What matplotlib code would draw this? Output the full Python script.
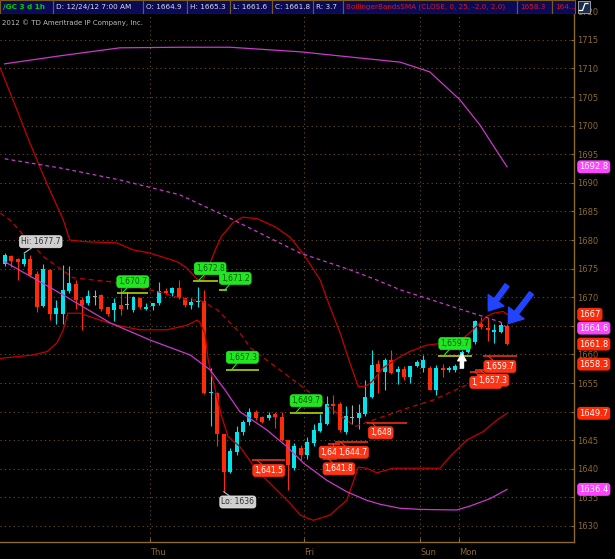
import numpy as np
import matplotlib.pyplot as plt
from matplotlib.patches import Rectangle

# /GC 3 d 1h -- one bar per hour, last bar Mon 12/24/12 7:00 AM
opens = [1675.8, 1677.2, 1676.6, 1675.8, 1676.7, 1674.0, 1668.5, 1674.8, 1667.0, 1667.0,
         1671.1, 1672.3, 1669.5, 1668.9, 1670.0, 1670.4, 1668.2, 1667.8, 1668.6, 1668.6,
         1667.8, 1669.9, 1668.0, 1668.5, 1668.9, 1671.1, 1670.7, 1671.6, 1669.8, 1668.7,
         1669.1, 1669.3, 1653.2, 1653.3, 1646.0, 1639.5, 1643.0, 1646.5, 1648.2, 1650.0,
         1649.0, 1648.8, 1649.6, 1649.1, 1645.0, 1640.2, 1643.6, 1642.4, 1644.5, 1646.6,
         1647.9, 1651.4, 1651.4, 1646.5, 1648.9, 1648.9, 1649.6, 1652.6, 1658.4, 1657.0,
         1659.0, 1657.0, 1657.4, 1656.0, 1658.0, 1657.6, 1657.6, 1653.8, 1657.7, 1657.3,
         1657.3, 1658.2, 1660.5, 1662.2, 1665.4, 1664.6, 1664.0, 1664.0, 1664.9]
highs = [1677.7, 1677.4, 1676.8, 1677.7, 1677.3, 1674.5, 1675.8, 1675.0, 1669.5, 1675.7,
         1675.5, 1673.0, 1670.0, 1671.3, 1671.3, 1670.5, 1668.3, 1669.8, 1671.6, 1670.9,
         1670.2, 1670.0, 1668.9, 1669.0, 1672.7, 1671.6, 1671.8, 1673.0, 1670.0, 1669.8,
         1671.8, 1671.3, 1657.6, 1653.4, 1646.1, 1643.6, 1647.4, 1648.5, 1650.6, 1650.2,
         1649.2, 1650.0, 1650.0, 1650.0, 1645.1, 1644.5, 1644.1, 1645.5, 1647.9, 1649.5,
         1652.7, 1652.9, 1651.6, 1651.0, 1651.1, 1651.3, 1655.5, 1660.8, 1659.0, 1659.3,
         1660.8, 1658.0, 1658.0, 1658.0, 1659.0, 1659.9, 1658.0, 1658.2, 1658.4, 1658.0,
         1658.4, 1660.8, 1662.5, 1666.1, 1666.6, 1666.4, 1665.4, 1665.7, 1665.3]
lows = [1675.5, 1675.3, 1673.0, 1675.5, 1673.6, 1667.5, 1668.3, 1666.0, 1665.4, 1665.4,
        1670.8, 1668.0, 1664.3, 1668.6, 1668.6, 1667.6, 1666.8, 1665.9, 1666.9, 1668.0,
        1667.5, 1668.0, 1667.8, 1667.8, 1668.6, 1670.6, 1670.2, 1669.6, 1668.2, 1667.9,
        1668.2, 1653.0, 1647.4, 1643.9, 1636.0, 1639.2, 1642.5, 1645.9, 1647.7, 1648.5,
        1648.0, 1648.5, 1647.1, 1644.8, 1636.3, 1639.8, 1641.5, 1641.8, 1644.0, 1646.4,
        1647.7, 1649.5, 1646.5, 1646.0, 1647.8, 1647.0, 1649.3, 1652.3, 1653.2, 1653.8,
        1656.5, 1654.9, 1655.5, 1655.0, 1657.8, 1657.0, 1653.7, 1652.9, 1656.1, 1657.0,
        1656.9, 1658.0, 1660.3, 1661.9, 1664.4, 1662.4, 1662.0, 1663.8, 1661.6]
closes = [1677.4, 1676.4, 1676.1, 1676.7, 1673.9, 1668.3, 1674.9, 1667.0, 1668.1, 1671.3,
          1672.4, 1669.5, 1668.6, 1670.2, 1670.0, 1668.0, 1667.1, 1668.9, 1667.9, 1668.6,
          1670.0, 1668.2, 1668.3, 1668.9, 1671.1, 1670.8, 1671.6, 1669.8, 1668.6, 1669.2,
          1669.3, 1653.3, 1653.4, 1646.0, 1639.5, 1643.1, 1646.5, 1648.2, 1650.0, 1648.8,
          1648.2, 1649.4, 1649.1, 1645.0, 1640.6, 1643.9, 1642.4, 1644.7, 1646.8, 1648.0,
          1651.4, 1651.0, 1646.8, 1649.2, 1648.9, 1649.7, 1652.6, 1658.2, 1657.0, 1659.0,
          1656.7, 1657.4, 1656.0, 1657.9, 1658.6, 1659.1, 1653.8, 1657.6, 1657.2, 1657.6,
          1658.0, 1660.5, 1661.9, 1665.8, 1664.8, 1664.3, 1664.3, 1665.1, 1661.8]

# day separators fall between bars
day_ticks = [22.5, 46.5, 64.5, 70.5]
day_names = ['Thu', 'Fri', 'Sun', 'Mon']

bb_up_x = [-0.7, 1.6, 3.9, 6.3, 9.1, 10.1, 12.5, 17.4, 19.9, 22.6, 26.8, 28.3, 30.0, 30.8,
           31.6, 32.7, 33.7, 35.5, 37.0, 39.3, 42.0, 44.3, 46.3, 49.0, 50.5, 52.1, 53.6,
           54.9, 56.0, 57.0, 58.7, 61.4, 62.9, 65.5, 67.6, 71.2, 72.7, 74.8, 75.9, 77.4, 78.0]
bb_up = [1710.1, 1703.6, 1697.0, 1690.5, 1683.5, 1680.0, 1679.7, 1679.5, 1678.3, 1677.7,
         1676.2, 1675.1, 1673.0, 1673.0, 1675.1, 1678.3, 1680.7, 1683.1, 1684.0, 1683.7,
         1682.3, 1680.5, 1677.7, 1673.0, 1668.3, 1663.7, 1658.5, 1654.4, 1654.4, 1655.2,
         1657.6, 1659.6, 1660.5, 1661.6, 1661.9, 1662.8, 1664.3, 1666.6, 1667.2, 1667.5, 1667.0]
bb_mid_x = [-0.7, 0.8, 6.0, 10.6, 16.4, 23.7, 28.3, 30.3, 33.0, 36.5, 38.1, 54.4, 58.7,
            62.5, 66.5, 71.2, 74.9, 78.0]
bb_mid = [1684.7, 1683.5, 1677.1, 1673.4, 1672.7, 1671.0, 1669.5, 1669.5, 1667.8, 1663.8,
          1661.2, 1647.4, 1649.1, 1650.6, 1652.0, 1654.4, 1656.1, 1658.3]
bb_lo_x = [-0.7, 4.4, 6.6, 8.1, 9.1, 9.8, 11.7, 14.8, 17.4, 21.0, 25.2, 28.3, 29.9, 30.3,
           31.1, 31.6, 32.7, 33.7, 34.7, 36.5, 39.1, 41.7, 44.3, 45.9, 47.9, 50.5, 53.1,
           54.4, 54.9, 56.2, 57.8, 60.3, 67.6, 69.1, 71.7, 74.3, 76.4, 78.0]
bb_lo = [1659.3, 1659.9, 1660.5, 1662.0, 1664.3, 1667.2, 1667.2, 1666.0, 1665.1, 1664.3,
         1664.3, 1665.1, 1666.0, 1665.6, 1663.7, 1659.0, 1653.8, 1649.1, 1645.6, 1643.9,
         1639.8, 1636.9, 1634.0, 1631.9, 1631.0, 1631.9, 1634.5, 1638.6, 1640.3, 1640.1,
         1639.3, 1640.1, 1640.1, 1642.1, 1645.0, 1646.5, 1648.5, 1649.7]

# second band set (magenta)
mg_up_x = [0, 8.6, 17.9, 27.2, 35.0, 45.9, 53.6, 61.4, 66.0, 70.7, 73.8, 76.1, 78.0]
mg_up = [1710.8, 1712.2, 1713.6, 1713.7, 1713.7, 1712.9, 1712.0, 1711.1, 1709.4, 1704.5,
         1700.1, 1696.1, 1692.8]
mg_mid_x = [0, 8.6, 17.9, 27.2, 35.0, 45.9, 53.6, 57.8, 61.4, 72.7, 76.9, 78.0]
mg_mid = [1694.2, 1692.6, 1690.5, 1687.9, 1683.8, 1677.7, 1674.8, 1673.0, 1671.3, 1667.2,
          1665.7, 1664.6]
mg_lo_x = [0, 8.6, 16.4, 22.6, 28.8, 31.9, 34.2, 36.5, 40.7, 43.8, 46.4, 50.0, 53.1, 56.2,
           58.3, 61.4, 64.5, 70.2, 72.3, 75.4, 78.0]
mg_lo = [1676.2, 1670.7, 1665.5, 1662.5, 1659.9, 1657.3, 1653.8, 1650.0, 1646.8, 1643.9,
         1641.0, 1638.0, 1636.0, 1634.5, 1633.8, 1633.1, 1632.9, 1632.8, 1633.5, 1634.8, 1636.4]

# price level tags: text, level, line start/end (bar), bubble position
green_tags = [('1,670.7', 1670.7, 17.4, 22.3, 19.9, 1672.7),
              ('1,672.8', 1672.8, 29.2, 33.1, 31.9, 1675.0),
              ('1,671.2', 1671.2, 33.3, 34.5, 35.8, 1673.3),
              ('1,657.3', 1657.3, 34.4, 39.5, 36.9, 1659.5),
              ('1,649.7', 1649.7, 44.3, 49.4, 46.8, 1651.9),
              ('1,659.7', 1659.7, 67.3, 72.6, 69.9, 1661.9)]
red_tags = [('1,641.5', 1641.5, 38.4, 43.5, 41.0, 1639.7),
            ('1,641.8', 1641.8, 49.4, 51.6, 51.9, 1640.0),
            ('1,644.2', 1644.4, 50.2, 52.1, 51.3, 1642.9),
            ('1,644.7', 1644.7, 51.3, 56.4, 54.0, 1642.9),
            ('1,648', 1648.0, 56.3, 62.5, 58.4, 1646.3),
            ('1,659.7', 1659.7, 74.3, 79.6, 76.9, 1657.9),
            ('1,655.2', 1657.0, 72.2, 74.3, 74.7, 1655.1),
            ('1,657.3', 1657.3, 73.0, 75.0, 75.8, 1655.5)]

UP = '#00e4ee'
DOWN = '#ff2a08'
FLAT = '#a8a8a8'
BAND = '#c40000'
MAG = '#cc38cc'
AXC = '#8a6a30'
GRID = '#6b5020'

plt.rcParams['font.family'] = 'DejaVu Sans'

fig = plt.figure(figsize=(6.15, 5.59), dpi=100, facecolor='black')
ax = fig.add_axes([0, 16.7 / 559, 574.3 / 615, 542.3 / 559])
ax.set_facecolor('black')

o = np.array(opens)
h = np.array(highs)
l = np.array(lows)
c = np.array(closes)
x = np.arange(len(o))
cols = [FLAT if cc == oo else (UP if cc > oo else DOWN) for oo, cc in zip(o, c)]

ax.vlines(x, l, h, colors=cols, lw=0.8, zorder=2)
body = np.maximum(np.abs(c - o), 0.18)
ax.bar(x, body, bottom=np.minimum(o, c), width=0.62, color=cols, lw=0, zorder=2)

ax.plot(bb_up_x, bb_up, color=BAND, lw=0.9, zorder=3)
ax.plot(bb_lo_x, bb_lo, color=BAND, lw=0.9, zorder=3)
ax.plot(bb_mid_x, bb_mid, color=BAND, lw=0.9, ls=(0, (4, 3)), zorder=3)
ax.plot(mg_up_x, mg_up, color=MAG, lw=0.9, zorder=3)
ax.plot(mg_lo_x, mg_lo, color=MAG, lw=0.9, zorder=3)
ax.plot(mg_mid_x, mg_mid, color=MAG, lw=0.9, ls=(0, (3, 2.5)), zorder=3)


def tag(text, level, x0, x1, bx, by, fc, tc, lc):
    ax.hlines(level, x0, x1, colors=lc, lw=1.1, zorder=6)
    ax.annotate(text, xy=(x0 + 0.8, level), xytext=(bx, by), ha='center', va='center',
                fontsize=5.5, color=tc, zorder=7,
                bbox=dict(boxstyle='round,pad=0.2,rounding_size=0.35', fc=fc, ec=fc, lw=0.5),
                arrowprops=dict(arrowstyle='-', color=fc, lw=0.8, shrinkA=0, shrinkB=0))


for t in green_tags:
    tag(*t, fc='#22e622', tc='#0b5a0b', lc='#c8e000')
for t in red_tags:
    tag(*t, fc='#ff3414', tc='white', lc='#ff3414')

# session high / low
for txt, xy, xyt in [('Hi: 1677.7', (3, highs[3]), (5.6, 1679.7)),
                     ('Lo: 1636', (34, lows[34]), (36.2, 1634.2))]:
    ax.annotate(txt, xy=xy, xytext=xyt, ha='center', va='center', fontsize=5.5,
                color='#303030', zorder=7,
                bbox=dict(boxstyle='round,pad=0.2,rounding_size=0.35', fc='#d0d0d0', ec='#e8e8e8', lw=0.5),
                arrowprops=dict(arrowstyle='-', color='#c0c0c0', lw=0.8, shrinkA=0, shrinkB=0))

# drawn arrows
blue = dict(arrowstyle='simple,head_width=1.4,head_length=0.95,tail_width=0.35',
            mutation_scale=10, fc='#2244ff', ec='#2244ff', shrinkA=0, shrinkB=0)
ax.annotate('', xy=(75.1, 1667.6), xytext=(78.0, 1672.1), arrowprops=blue, zorder=8)
ax.annotate('', xy=(78.2, 1665.4), xytext=(81.8, 1670.7), arrowprops=blue, zorder=8)
ax.annotate('', xy=(71.0, 1660.1), xytext=(71.0, 1657.6), zorder=8,
            arrowprops=dict(arrowstyle='simple,head_width=1.2,head_length=1.0,tail_width=0.45',
                            mutation_scale=5, fc='white', ec='white', shrinkA=0, shrinkB=0))

# last values on the price axis
for val, fc in [(mg_up[-1], '#ff44ff'), (bb_up[-1], DOWN), (mg_mid[-1], '#ff44ff'),
                (closes[-1], DOWN), (bb_mid[-1], DOWN), (bb_lo[-1], DOWN), (mg_lo[-1], '#ff44ff')]:
    ax.annotate(f'{val:g}', xy=(1, val), xycoords=('axes fraction', 'data'), xytext=(3.5, 0),
                textcoords='offset points', ha='left', va='center', fontsize=6, color='white',
                bbox=dict(boxstyle='round,pad=0.15,rounding_size=0.3', fc=fc, ec=fc),
                annotation_clip=False, zorder=9)

ax.set_xlim(-0.73, 88.45)
ax.set_ylim(1627.15, 1721.96)
ax.set_yticks(np.arange(1630, 1721, 5))
ax.yaxis.tick_right()
ax.set_xticks(day_ticks)
ax.set_xticklabels(day_names)
for lab in ax.get_xticklabels():
    lab.set_horizontalalignment('left')
ax.tick_params(axis='y', direction='in', length=2.5, width=0.8, color=AXC, labelcolor=AXC,
               labelsize=6, pad=2)
ax.tick_params(axis='x', direction='in', length=3, width=0.8, color=AXC, labelcolor=AXC,
               labelsize=6, pad=4)
ax.grid(True, color=GRID, ls=(0, (1, 3)), lw=0.8, zorder=0)
for s in ['left', 'top']:
    ax.spines[s].set_visible(False)
for s in ['right', 'bottom']:
    ax.spines[s].set_color(AXC)
    ax.spines[s].set_linewidth(1)

# header strip
hd = fig.add_axes([0, 1 - 14 / 559, 1, 14 / 559], zorder=10)
hd.set_xlim(0, 615)
hd.set_ylim(14, 0)
hd.axis('off')
header = [(0, 52.7, '/GC 3 d 1h', '#00d000'),
          (52.7, 143.3, 'D: 12/24/12 7:00 AM', '#dcdcdc'),
          (143.3, 186.7, 'O: 1664.9', '#dcdcdc'),
          (186.7, 230, 'H: 1665.3', '#dcdcdc'),
          (230, 271.7, 'L: 1661.6', '#dcdcdc'),
          (271.7, 313, 'C: 1661.8', '#dcdcdc'),
          (313, 343.3, 'R: 3.7', '#dcdcdc'),
          (343.3, 517.3, 'BollingerBandsSMA (CLOSE, 0, 25, -2.0, 2.0)', '#e01414'),
          (517.3, 551.7, '1658.3', '#e01414'),
          (551.7, 575, '164...', '#e01414')]
for x0, x1, txt, tc in header:
    hd.add_patch(Rectangle((x0, 0), x1 - x0, 13.5, fc='#0a0a58', ec='#7a5c1c', lw=0.8))
    hd.text(x0 + 3, 7, txt, color=tc, fontsize=5.2, va='center', ha='left',
            fontweight='bold' if x0 == 0 else 'normal')
hd.add_patch(Rectangle((577.5, 0.5), 12.5, 12.5, fc='#1c2c4c', ec='#b0b0b0', lw=0.6))
hd.plot([579.5, 582.5, 585, 588], [10.5, 10.5, 3.5, 3.5], color='white', lw=0.9)

fig.text(2 / 615, 1 - 22.7 / 559, '2012 \u00a9 TD Ameritrade IP Company, Inc.', color='#bdbdbd',
         fontsize=5, va='center', ha='left')

fig.savefig('out.png', dpi=100, facecolor='black')
